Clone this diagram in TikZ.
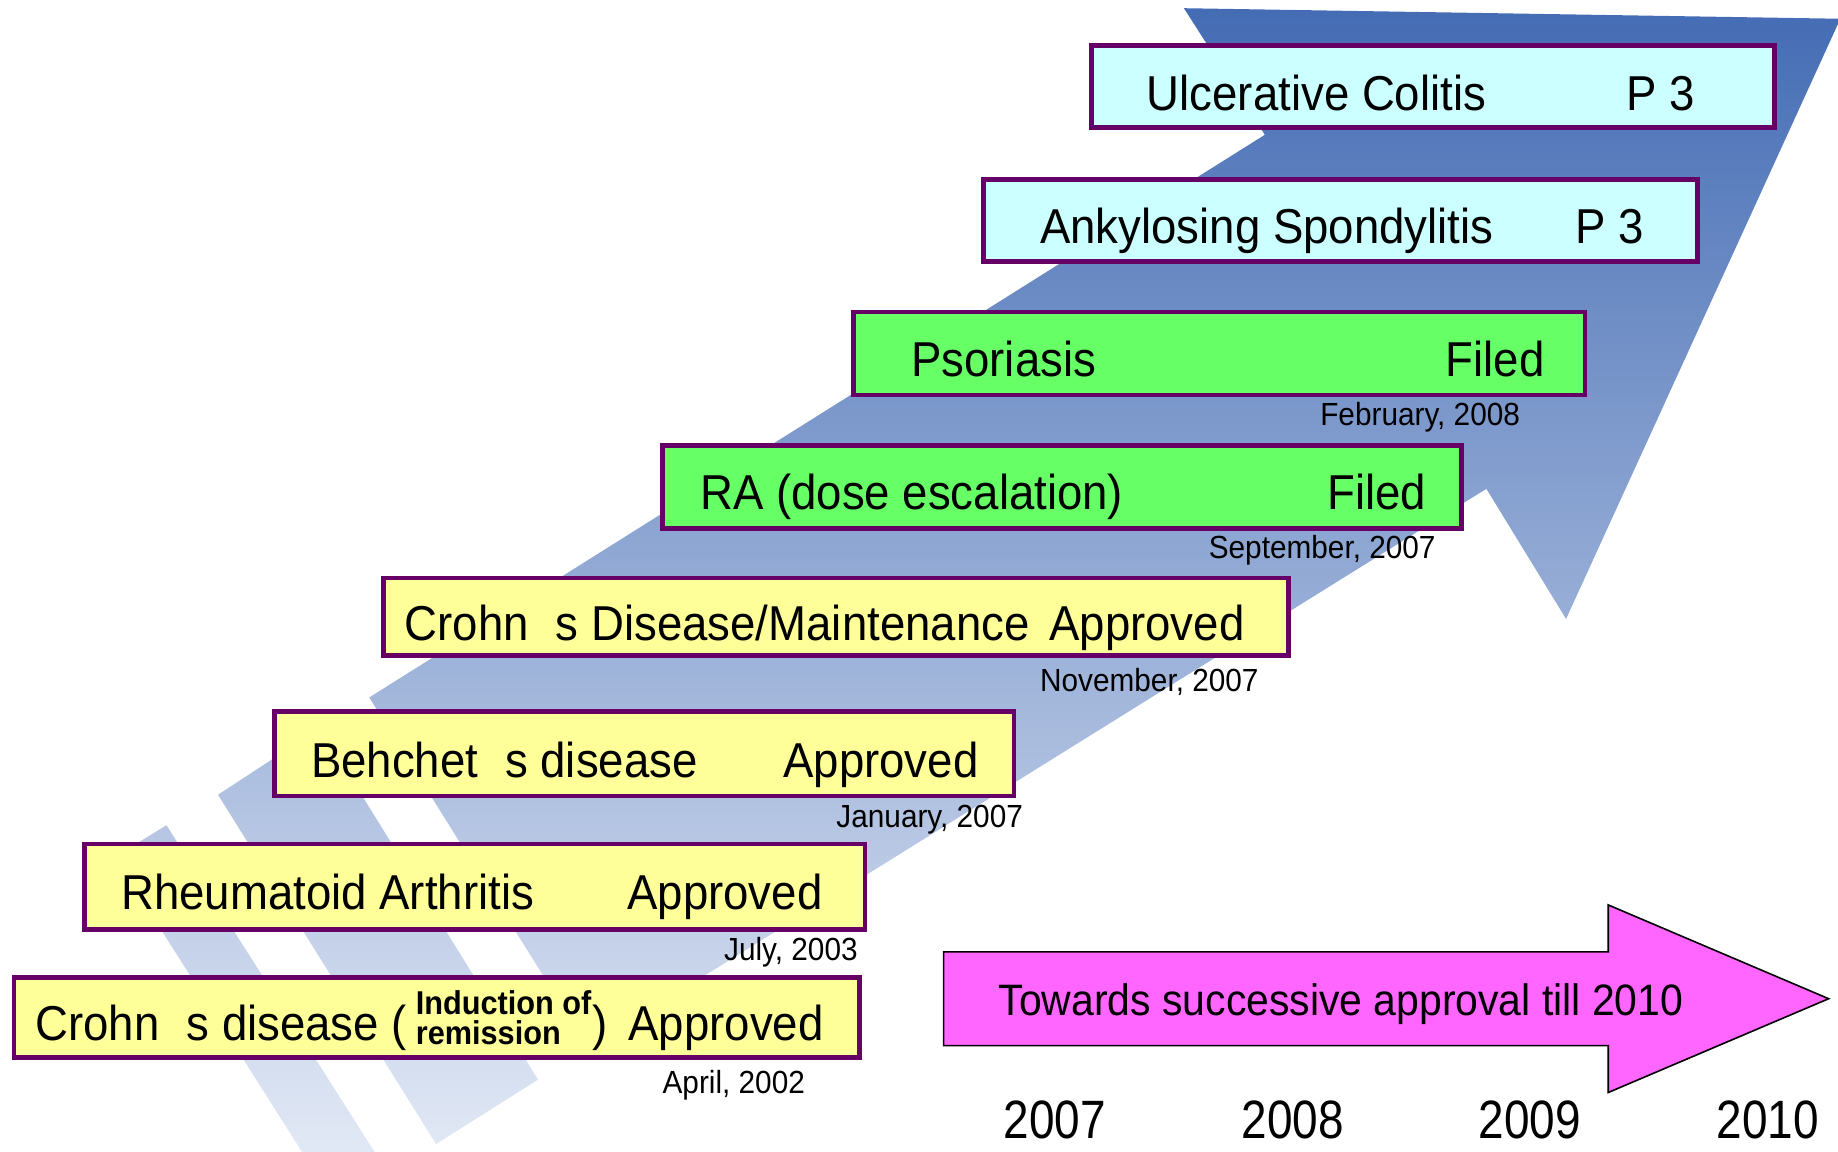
\documentclass[tikz,border=0pt]{standalone}
\usepackage{fontspec}
\setmainfont{Liberation Sans}[FakeStretch=0.93]
\newfontfamily\yearfont{Liberation Sans}[FakeStretch=0.85]
\usetikzlibrary{fit,positioning,calc}
\definecolor{boxline}{RGB}{102,0,102}
\definecolor{yellowbox}{RGB}{255,255,153}
\definecolor{greenbox}{RGB}{102,255,102}
\definecolor{cyanbox}{RGB}{204,255,255}
\definecolor{pinkarrow}{RGB}{255,102,255}
\definecolor{arrowtop}{RGB}{68,108,180}
\definecolor{arrowmid}{RGB}{182,195,224}
\definecolor{arrowbot}{RGB}{230,236,247}

\tikzset{
  stage/.style={draw=boxline,line width=2.3pt,inner sep=0pt},
  lbl/.style={anchor=base west,inner sep=0pt,font=\fontsize{24.5}{28}\selectfont},
  res/.style={anchor=base east,inner sep=0pt,font=\fontsize{24.5}{28}\selectfont},
  when/.style={anchor=east,inner sep=0pt,font=\fontsize{16}{19}\selectfont},
}

\begin{document}
\begin{tikzpicture}[x=0.586pt,y=-0.586pt]
\useasboundingbox (0,0) rectangle (1568,982);

% big background arrow with two tail stripes
\begin{scope}
\clip (0,0) rectangle (1568,982);
\shade[top color=arrowtop,middle color=arrowmid,bottom color=arrowbot]
  (315,595) -- (1079,115) -- (1010,7) -- (1570,16) -- (1336,528) -- (1268,417) -- (502,894) -- cycle
  (186,678) -- (273,621) -- (459,921) -- (372,976) -- cycle
  (98,731) -- (142,704) -- (337,1010) -- (275,1010) -- cycle;
\end{scope}

% indications
\node[stage,fill=cyanbox,fit={(931,39) (1514,109)}] (uc) {};
\node[stage,fill=cyanbox,fit={(839,153) (1448,223)}] (as) {};
\node[stage,fill=greenbox,fit={(728,266) (1352,337)}] (ps) {};
\node[stage,fill=greenbox,fit={(565,380) (1247,451)}] (rad) {};
\node[stage,fill=yellowbox,fit={(327,493) (1099,559)}] (cm) {};
\node[stage,fill=yellowbox,fit={(234,607) (865,679)}] (bd) {};
\node[stage,fill=yellowbox,fit={(72,720) (738,793)}] (ra) {};
\node[stage,fill=yellowbox,fit={(12,834) (733,902)}] (cd) {};

\node[lbl] (ucT) at (978,94) {Ulcerative Colitis};
\node[res] (ucS) at (1446,94) {P 3};
\node[lbl] (asT) at (887,208) {Ankylosing Spondylitis};
\node[res] (asS) at (1403,208) {P 3};
\node[lbl] (psT) at (777,321) {Psoriasis};
\node[res] (psS) at (1318,321) {Filed};
\node[lbl] (radT) at (597,435) {RA (dose escalation)};
\node[res] (radS) at (1217,435) {Filed};
\node[lbl] (cmT) at (345,546) {Crohn\hspace{0.55em}s Disease/Maintenance};
\node[res] (cmS) at (1062,546) {Approved};
\node[lbl] (bdT) at (265,663) {Behchet\hspace{0.55em}s disease};
\node[res] (bdS) at (835,663) {Approved};
\node[lbl] (raT) at (103,776) {Rheumatoid Arthritis};
\node[res] (raS) at (702,776) {Approved};
\node[lbl] (cdT) at (30,888) {Crohn\hspace{0.55em}s disease (};
\node[anchor=west,inner sep=0pt,align=left,font=\bfseries\fontsize{16.5}{15}\selectfont] (cdI) at ([xshift=4pt]cdT.east |- cd.center) {Induction of\\remission};
\node[lbl] (cdP) at (cdI.east |- cdT.base) {)};
\node[res] (cdS) at (703,888) {Approved};

% dates
\node[when] (psD) at (1297,356) {February, 2008};
\node[when] (radD) at (1225,469) {September, 2007};
\node[when] (cmD) at (1074,582) {November, 2007};
\node[when] (bdD) at (873,699) {January, 2007};
\node[when] (raD) at (732,812) {July, 2003};
\node[when] (cdD) at (687,926) {April, 2002};

% time line
\draw[fill=pinkarrow,line width=0.8pt] (805,812) -- (1372,812) -- (1372,772) -- (1560,852) -- (1372,932) -- (1372,892) -- (805,892) -- cycle;
\node[inner sep=0pt,font=\fontsize{22}{24}\selectfont] (goal) at (1144,857) {Towards successive approval till 2010};
\foreach \yr/\xx in {2007/900,2008/1103,2009/1305,2010/1508}
  \node[inner sep=0pt,font=\yearfont\fontsize{27}{30}\selectfont] (y\yr) at (\xx,955) {\yr};
\end{tikzpicture}
\end{document}
